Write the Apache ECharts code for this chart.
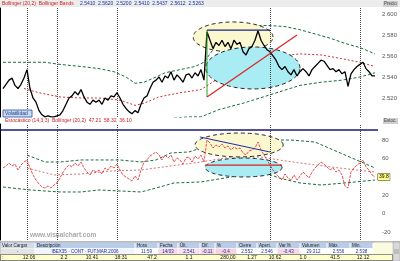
<!DOCTYPE html>
<html><head><meta charset="utf-8">
<script src="https://cdn.jsdelivr.net/npm/echarts@6/dist/echarts.min.js"></script>
<style>html,body{margin:0;padding:0;background:#fff}#c{width:400px;height:261px}</style>
</head><body><div id="c"></div>
<script>
// ---------- data ----------
const price = [2529,2533,2537,2539,2532,2529,2533,2539,2547,2529,2520,2516,2508,2504,2502,2503,2502,2502,2503,2504,2508,2514,2520,2522,2526,2523,2528,2521,2516,2514,2518,2516,2518,2514,2520,2518,2522,2521,2525,2520,2514,2510,2507,2505,2508,2506,2514,2520,2522,2529,2535,2537,2540,2535,2541,2539,2545,2537,2542,2539,2535,2542,2543,2539,2544,2541,2547,2537,
2583,2575,2567,2573,2570,2575,2569,2573,2567,2575,2571,2573,2564,2561,2567,2569,2575,2584,2575,2570,2566,2564,2560,2556,2550,2547,2550,2545,2542,2547,2541,2545,2548,2545,2541,2547,2550,2553,2556,2555,2551,2547,2548,2545,2547,2543,2545,2531,2543,2547,2550,2552,2554,2548,2545,2541,2541];
const upperBand = [[1,2554],[15,2554],[20,2552],[27,2550],[33,2548],[38,2545],[42,2540],[45,2534],[48,2535],[52,2540],[55,2544],[60,2547],[65,2550],[68,2554],[71,2566],[74,2579],[77,2586],[80,2589],[85,2589],[90,2589],[95,2588],[100,2585],[105,2581],[110,2577],[115,2572],[120,2568],[125,2562]];
const midBand = [[8,2529],[13,2525],[20,2521],[27,2520],[33,2520],[40,2518],[45,2513],[48,2515],[53,2521],[60,2525],[67,2528],[73,2539],[80,2548],[87,2556],[93,2560],[100,2562],[107,2561],[113,2558],[120,2554],[125,2550]];
const lowerBand = [[58,2501],[63,2502],[67,2502],[73,2509],[81,2515],[90,2523],[100,2532],[107,2535],[114,2537],[120,2540],[125,2544]];
const osc = [49.6,51.8,55.0,51.8,53.9,47.4,52.8,56.1,58.3,49.6,42.0,36.5,32.2,28.9,27.8,30.0,27.8,31.1,33.3,38.7,45.2,49.6,52.8,50.7,55.0,51.8,56.1,49.6,45.2,42.0,47.4,45.2,47.4,43.1,49.6,47.4,51.8,49.6,53.9,47.4,42.0,39.8,37.6,35.5,40.9,36.5,47.4,56.1,58.3,62.6,64.8,67.0,63.7,58.3,63.7,60.5,63.7,56.1,60.5,58.3,53.9,60.5,61.5,56.1,62.6,59.4,63.7,56.1,
80.0,76.8,71.3,74.6,72.4,75.7,71.3,73.5,69.2,72.4,70.2,71.3,65.9,63.7,68.1,69.2,71.3,77.8,69.2,63.7,58.3,52.8,47.4,43.1,39.8,36.5,43.1,38.7,36.5,42.0,36.5,40.9,45.2,42.0,38.7,45.2,49.6,52.8,56.1,53.9,50.7,47.4,49.6,45.2,47.4,42.0,30.0,27.8,45.2,49.6,52.8,55.0,58.3,50.7,47.4,42.0,39.8];
const oscUpper = [[9,63.7],[15,56.1],[20,56.1],[27,58.3],[33,58.3],[40,58.3],[47,56.1],[52,58.3],[57,65.9],[63,67.0],[67,71.3],[73,80.0],[81,83.3],[88,80.0],[97,80.0],[105,77.8],[115,63.7],[125,49.6]];
const oscMid = [[9,49.6],[18,42.0],[27,43.1],[37,46.3],[47,47.4],[57,51.8],[67,56.1],[77,61.5],[87,61.5],[93,58.3],[100,55.0],[113,49.6],[125,45.2]];
const oscLower = [[1,28.9],[10,25.7],[20,23.5],[27,23.5],[33,25.7],[47,23.5],[52,27.8],[58,33.3],[67,34.4],[77,39.8],[86,47.4],[93,38.7],[100,33.3],[107,31.1],[115,33.3],[125,36.5]];
const monthBreaks = [9,19,39,90,120];
const priceTicks = [2520,2540,2560,2580,2600];
const oscTicks = [-20,0,20,40,60,80];
const oscLevel = 91;
// annotations (data coords: [index, value])
const topYellowEllipse = [77.7,2578.1,13.3,14.3];
const topCyanEllipse = [84.3,2548.6,15.7,20];
const topGapLine = [[69,2584.7],[69,2521]];
const topTrendLine = [[69,2521],[99,2580]];
const topResistLine = [[69,2584.7],[90,2584.7]];
const botYellowEllipse = [79.7,74.6,14.7,13.0];
const botCyanEllipse = [81.2,50.1,12.8,10.3];
const botTrendLine = [[66.7,83.3],[90,67.0]];
const botFlatLine = [[68.3,52.8],[94,52.8]];
// texts
const titleRed = 'Bollinger (20,2)  Bollinger Bands';
const titleBlue = '2.5410  2.5620  2.5200  2.5410  2.5437  2.5612  2.5263';
const subTitle = 'Estocástico (14,3,3)  Bollinger (20,2)  47.21  58.32  36.10';
const tableHeader = ['Valor Cargar','Descripción','Hora','Fecha','Últ.','Dif.','%','Cierre','Apert.','Var.%','Volumen','Máx.','Mín.'];
const tableRow1 = ['-','IBEX35 · CONT · FUT.MAR.2006','11:59','14/03','2.541','-0.11','-0.4','2.552','2.546','-0.43','29.312','2.556','2.538'];
const tableRow2 = [':','12:06','2.2','10.41','18:31','47.2','1.1','280,00','1.27','10.62','1.0','41.5','12.12'];

// ---------- layout (not data) ----------
const colX = [0,35,135,158,178,200,215,237,257,277,300,327,350,373];
const hdrFill = ['#d3dbe8','#b9cde8','#b9cde8','#b9cde8','#b9cde8','#b9cde8','#b9cde8','#b9cde8','#b9cde8','#b9cde8','#b9cde8','#b9cde8','#b9cde8'];
const r1Fill = ['#e4e4e4','#f2f4ff','#ffffff','#f7d9e6','#f7e1ea','#f4d3df','#f4d3df','#ffffff','#ffffff','#f7d9e6','#ffffff','#ffffff','#ffffff'];
const r2X = [2,29,64,92,121,152,189,228,252,275,303,335,363];

const chart = echarts.init(document.getElementById('c'), null, {renderer:'canvas'});
const FONT = 'Liberation Sans, Arial, sans-serif';

function ellipse(e, xi, yi, fill, z) {
  return {
    type:'custom', xAxisIndex:xi, yAxisIndex:yi, z, silent:true, clip:false,
    data:[e],
    renderItem(params, api) {
      const cx = api.value(0), cy = api.value(1), rx = api.value(2), ry = api.value(3);
      const pts = [];
      for (let k = 0; k < 80; k++) {
        const a = k / 80 * Math.PI * 2;
        pts.push(api.coord([cx + rx * Math.cos(a), cy + ry * Math.sin(a)]));
      }
      return {type:'polygon', shape:{points:pts}, style:{fill, stroke:'#111', lineWidth:0.9, lineDash:[4,3]}};
    }
  };
}
function seg(data, xi, yi, color, width, z) {
  return {type:'line', xAxisIndex:xi, yAxisIndex:yi, data, showSymbol:false, symbol:'none', silent:true, z,
    lineStyle:{color, width}, clip:false};
}
function band(data, xi, yi, color, dash, z) {
  return {type:'line', xAxisIndex:xi, yAxisIndex:yi, data, showSymbol:false, symbol:'none', silent:true, z,
    lineStyle:{color, width:1, type:dash}};
}
const vLines = monthBreaks.map(i => ({xAxis:i}));

const graphic = [];
graphic.push({type:'rect', shape:{x:0,y:0,width:400,height:7}, style:{fill:'#ececec'}, z:0, silent:true});
graphic.push({type:'text', x:2, y:1, style:{text:titleRed, fill:'#cc2222', font:'5px '+FONT}, z:100});
graphic.push({type:'text', x:80, y:1, style:{text:titleBlue, fill:'#1a2fa0', font:'5px '+FONT}, z:100});
graphic.push({type:'rect', shape:{x:383,y:1,width:15,height:6}, style:{fill:'#cfcfcf'}, z:100});
graphic.push({type:'text', x:384, y:1.5, style:{text:'Precio', fill:'#444', font:'4.5px '+FONT}, z:101});
graphic.push({type:'rect', shape:{x:383,y:118,width:15,height:6}, style:{fill:'#cfcfcf'}, z:100});
graphic.push({type:'text', x:384, y:118.5, style:{text:'Estoc.', fill:'#444', font:'4.5px '+FONT}, z:101});
graphic.push({type:'rect', shape:{x:3,y:110,width:29,height:7}, style:{fill:'#c9dcf4', stroke:'#2a4fa0', lineWidth:0.8}, z:100});
graphic.push({type:'text', x:5, y:111, style:{text:'Volatilidad', fill:'#1a3a8a', font:'5px '+FONT}, z:101});
graphic.push({type:'text', x:5, y:118, style:{text:subTitle, fill:'#cc2222', font:'5px '+FONT}, z:100});
graphic.push({type:'text', x:30, y:232, style:{text:'www.visualchart.com', fill:'#a8a8a8', font:'bold 6.5px '+FONT}, z:100});
// table
graphic.push({type:'rect', shape:{x:0,y:242,width:400,height:19}, style:{fill:'#ffffff', stroke:'#555', lineWidth:0.8}, z:100});
for (let c = 0; c < tableHeader.length; c++) {
  const x0 = colX[c], x1 = colX[c+1];
  graphic.push({type:'rect', shape:{x:x0+0.5,y:242.5,width:x1-x0-1,height:5.5}, style:{fill:hdrFill[c]}, z:101});
  graphic.push({type:'text', x:x0+2, y:243, style:{text:tableHeader[c], fill:'#222', font:'4.5px '+FONT}, z:102});
  graphic.push({type:'rect', shape:{x:x0+0.5,y:248.5,width:x1-x0-1,height:5.5}, style:{fill:r1Fill[c]}, z:101});
  graphic.push({type:'text', x:(x0+x1)/2, y:249, style:{text:tableRow1[c], fill:'#1a2fa0', font:'4.5px '+FONT, align:'center'}, z:102});
}
graphic.push({type:'rect', shape:{x:373.5,y:242.5,width:19,height:11.5}, style:{fill:'#fbfbe0'}, z:101});
graphic.push({type:'rect', shape:{x:0.5,y:254.5,width:392,height:6}, style:{fill:'#ffffcc', stroke:'#444', lineWidth:0.6}, z:101});
for (let c = 0; c < tableRow2.length; c++) {
  graphic.push({type:'text', x:r2X[c], y:255.2, style:{text:tableRow2[c], fill:'#111', font:'5px '+FONT, align:c?'center':'left'}, z:102});
}
graphic.push({type:'rect', shape:{x:393,y:242,width:7,height:19}, style:{fill:'#d8d8d8', stroke:'#999', lineWidth:0.5}, z:102});
graphic.push({type:'rect', shape:{x:394,y:249,width:5,height:5}, style:{fill:'#bdbdbd'}, z:103});

const option = {
  animation:false,
  backgroundColor:'#ffffff',
  textStyle:{fontFamily:FONT},
  grid:[
    {left:0, top:8, width:378, height:109},
    {left:0, top:124, width:378, height:116}
  ],
  xAxis:[
    {type:'value', gridIndex:0, min:0, max:126, show:false},
    {type:'value', gridIndex:1, min:0, max:126, show:false}
  ],
  yAxis:[
    {type:'value', gridIndex:0, position:'right', min:2501.9, max:2605.7,
     axisLine:{show:true, lineStyle:{color:'#000', width:1}}, axisTick:{show:false}, splitLine:{show:false},
     axisLabel:{customValues:priceTicks, fontSize:6, color:'#555', margin:4, formatter:v => (v/1000).toFixed(3)}},
    {type:'value', gridIndex:1, position:'right', min:-28.7, max:97.4,
     axisLine:{show:true, lineStyle:{color:'#000', width:1}}, axisTick:{show:false}, splitLine:{show:false},
     axisLabel:{customValues:oscTicks, fontSize:6, color:'#555', margin:4, formatter:v => String(v)}}
  ],
  graphic,
  series:[
    band(upperBand,0,0,'#1b6e3c',[3,2],2),
    band(midBand,0,0,'#cc3333',[2,2],2),
    band(lowerBand,0,0,'#1b6e3c',[3,2],2),
    ellipse(topYellowEllipse,0,0,'#fbf8cf',3),
    ellipse(topCyanEllipse,0,0,'#a9ecf3',4),
    {type:'line', xAxisIndex:0, yAxisIndex:0, data:price.map((v,i)=>[i+1,v]), showSymbol:false, symbol:'none',
     lineStyle:{color:'#000', width:1.3}, z:6, silent:true,
     markLine:{silent:true, symbol:'none', label:{show:false}, lineStyle:{type:'dotted', color:'#444', width:1}, data:vLines}},
    seg(topGapLine,0,0,'#2fa02f',1,7),
    seg(topTrendLine,0,0,'#dd2222',1.2,7),
    seg(topResistLine,0,0,'#1a237e',1.2,7),
    band(oscUpper,1,1,'#1b6e3c',[3,2],2),
    band(oscMid,1,1,'#e07070',[2,2],2),
    band(oscLower,1,1,'#1b6e3c',[3,2],2),
    ellipse(botYellowEllipse,1,1,'#fbf8cf',3),
    ellipse(botCyanEllipse,1,1,'#a9ecf3',4),
    {type:'line', xAxisIndex:1, yAxisIndex:1, data:osc.map((v,i)=>[i+1,v]), showSymbol:false, symbol:'none',
     lineStyle:{color:'#e02525', width:0.8, type:[3,1]}, z:6, silent:true,
     endLabel:{show:true, formatter:p => p.value[1].toFixed(1), fontSize:5, color:'#000', backgroundColor:'#ffff88', borderColor:'#333', borderWidth:0.5, padding:[1,1], distance:3},
     markLine:{silent:true, symbol:'none', label:{show:false}, lineStyle:{type:'dotted', color:'#444', width:1},
       data:vLines.concat([{yAxis:oscLevel, lineStyle:{type:'solid', color:'#1a1a6e', width:1.5}}])}},
    seg(botTrendLine,1,1,'#2233aa',1.2,7),
    seg(botFlatLine,1,1,'#dd2222',1.2,7)
  ]
};
chart.setOption(option);
</script></body></html>
